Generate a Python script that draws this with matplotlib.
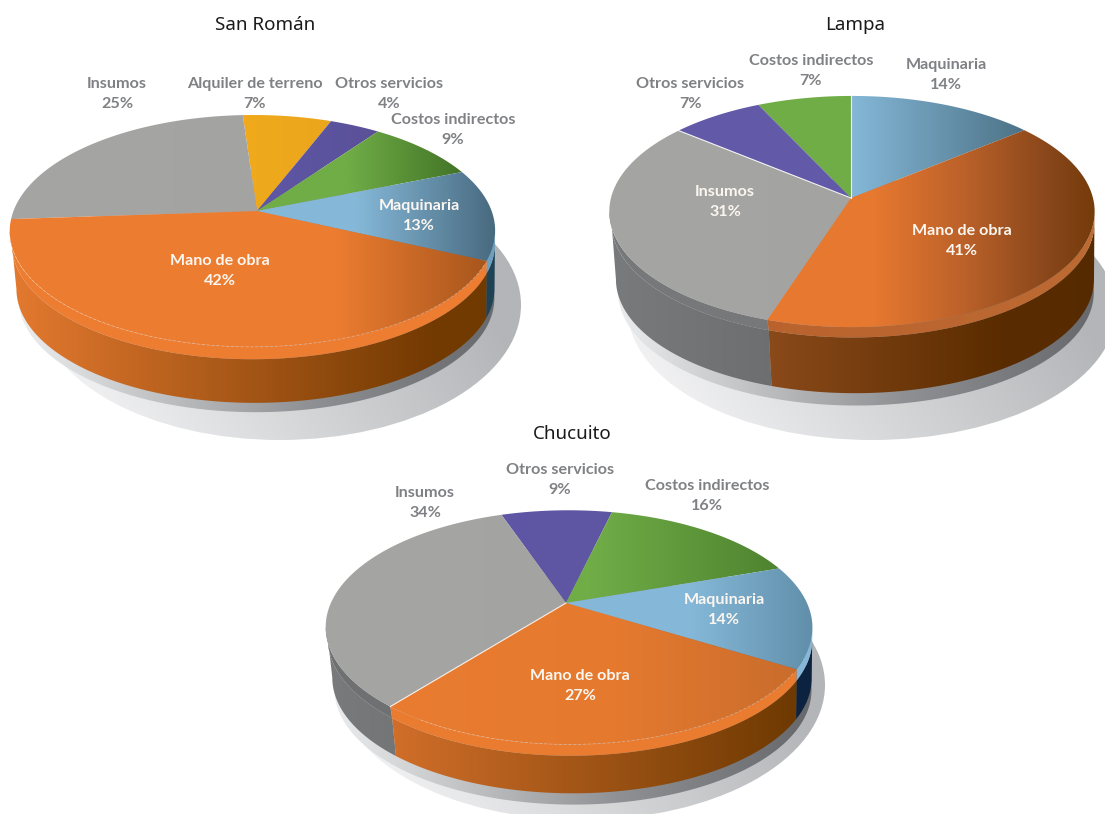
# -*- coding: utf-8 -*-

'''
Estructura de costos por provincia - tres tortas en perspectiva
'''

import matplotlib
matplotlib.use("Agg")
import matplotlib.pyplot as plt
import numpy as np
from matplotlib.colors import to_rgb
from matplotlib.patches import Ellipse, Polygon

# San Roman
sr_names = ["Alquiler de terreno", "Otros servicios", "Costos indirectos", "Maquinaria", "Mano de obra", "Insumos"]
sr_values = [7, 4, 9, 13, 42, 25]

# Lampa
la_names = ["Maquinaria", "Mano de obra", "Insumos", "Otros servicios", "Costos indirectos"]
la_values = [14, 41, 31, 7, 7]

# Chucuito
ch_names = ["Otros servicios", "Costos indirectos", "Maquinaria", "Mano de obra", "Insumos"]
ch_values = [9, 16, 14, 27, 34]

GREY_TXT = "#808184"
WHITE_TXT = "#fbf6f0"


def shade(ax, points, stops, x0, x1):
    # horizontal gradient clipped to a polygon
    points = np.asarray(points)
    t = np.linspace(0, 1, 400)
    pos = [s[0] for s in stops]
    rgb = np.array([to_rgb(s[1]) for s in stops])
    img = np.stack([np.interp(t, pos, rgb[:, i]) for i in range(3)], axis=1)[None, :, :]
    im = ax.imshow(img, extent=(x0, x1, points[:, 1].max() + 1, points[:, 1].min() - 1),
                   aspect="auto", interpolation="bilinear", zorder=2)
    im.set_clip_path(Polygon(points, closed=True, transform=ax.transData))


def project(p, theta, scale=1.0, drop=0.0, shift=0.0):
    # theta in degrees, clockwise from the top of the disc
    u = np.sin(np.radians(theta))
    v = np.cos(np.radians(theta))
    w = 1 + p["k"] * v + p["m"] * u
    x = p["cx"] + scale * p["rx"] * u / w + shift
    y = p["cy"] - scale * p["ry"] * v / w + drop
    return np.column_stack([x, y])


def band(p, a, b, top, bottom):
    th = np.linspace(a, b, 120)
    return np.vstack([project(p, th, *top), project(p, th[::-1], *bottom)])


def draw_pie(ax, p, names, values, styles):
    x0 = p["cx"] - 250
    x1 = p["cx"] + 250

    # cast shadow
    sx, sy, srx, sry = p["shadow"]
    yy, xx = np.mgrid[0:1:200j, 0:1:300j]
    g = np.clip(0.3 + 0.95 * xx - 0.35 * yy, 0, 1)
    light = np.array(to_rgb("#f7f7f8"))
    dark = np.array(to_rgb("#b3b5b8"))
    img = light + (dark - light) * g[:, :, None]
    im = ax.imshow(img, extent=(sx - srx, sx + srx, sy + sry, sy - sry), aspect="auto", zorder=1)
    im.set_clip_path(Ellipse((sx, sy), 2 * srx, 2 * sry, transform=ax.transData))

    # grey base under the wall
    th = np.linspace(0, 360, 361)
    shade(ax, project(p, th, *p["base"]),
          [(0, "#f0f1f2"), (0.3, "#c0c2c4"), (0.6, "#8f9194"), (1, "#65676a")], x0, x1)

    edges = p["start"] + np.cumsum([0] + list(values)) * 3.6
    slices = [(names[i], edges[i], edges[i + 1]) for i in range(len(values))]
    # front slices last
    slices.sort(key=lambda s: np.cos(np.radians((s[1] + s[2]) / 2)), reverse=True)

    # walls only exist between the widest points of the rim
    limit = np.degrees(np.arcsin(p["k"]))
    lo = 90 + limit
    hi = 270 - limit
    lip = (0.995, p["lip"], 1)
    for name, a, b in slices:
        a2, b2 = max(a, lo), min(b, hi)
        if a2 < b2:
            shade(ax, band(p, a2, b2, lip, p["wall"]), styles[name]["wall"], x0, x1)
    for name, a, b in slices:
        a2, b2 = max(a, lo), min(b, hi)
        if a2 < b2:
            shade(ax, band(p, a2, b2, (1.0, 0.0, 0.0), lip), styles[name]["lip"], x0, x1)
    for name, a, b in slices:
        th = np.linspace(a, b, 120)
        face = np.vstack([[[p["cx"], p["cy"]]], project(p, th)])
        shade(ax, face, styles[name]["face"], x0, x1)

    # thin highlights
    for name, a, b in slices:
        if name in p["white_rim"]:
            rim = project(p, np.linspace(a + 2, b - 8, 120))
            ax.plot(rim[:, 0], rim[:, 1], color="white", lw=0.5, alpha=0.4, ls=(0, (5, 2)), zorder=3)
    for i in p["white_edges"]:
        end = project(p, np.array([edges[i]]))[0]
        ax.plot([p["cx"], end[0]], [p["cy"], end[1]], color="white", lw=0.8, alpha=0.85, zorder=3)


def draw_labels(ax, names, values, where):
    for name, value in zip(names, values):
        x, y, color = where[name]
        ax.text(x, y, "%s\n%d%%" % (name, value), color=color, ha="center", va="center",
                fontsize=11.6, fontweight="bold", linespacing=1.55, zorder=5, family="Lato")


flat_grey = [(0, "#a5a5a3"), (1, "#a2a2a0")]
flat_purple = [(0, "#6058a7"), (1, "#5d54a0")]
dark_grey = [(0, "#7a7b7d"), (0.35, "#6d6e70"), (1, "#626365")]
navy = [(0, "#1f4255"), (1, "#1f4255")]

sr_styles = {
    "Insumos": dict(face=flat_grey, lip=dark_grey, wall=dark_grey),
    "Alquiler de terreno": dict(face=[(0.4, "#f2ab1b"), (0.7, "#e9a51d")], lip=dark_grey, wall=dark_grey),
    "Otros servicios": dict(face=[(0.5, "#5f57a6"), (0.8, "#594f95")], lip=dark_grey, wall=dark_grey),
    "Costos indirectos": dict(face=[(0, "#70ad47"), (0.68, "#70ad47"), (0.93, "#3f6f24")], lip=navy, wall=navy),
    "Maquinaria": dict(face=[(0, "#85b8d8"), (0.7, "#85b8d8"), (0.98, "#47697e")],
                       lip=[(0, "#6ba0c0"), (1, "#6ba0c0")], wall=navy),
    "Mano de obra": dict(face=[(0, "#ed7d31"), (0.66, "#ec7c30"), (0.98, "#a3541c")],
                         lip=[(0, "#ed7d31"), (1, "#ed7d31")],
                         wall=[(0, "#e57a30"), (0.85, "#733a02"), (1, "#703a00")]),
}

la_orange_wall = [(0, "#b0622a"), (0.33, "#8b4a1a"), (0.8, "#5a2c00"), (1, "#562a00")]
la_styles = {
    "Maquinaria": dict(face=[(0, "#85b8d8"), (0.5, "#85b8d8"), (0.85, "#4c7286")], lip=navy, wall=navy),
    "Mano de obra": dict(face=[(0, "#e97a2f"), (0.55, "#e67830"), (0.72, "#bd622a"), (0.9, "#87461a"), (1, "#733a08")],
                         lip=[(0, "#b85f2b"), (1, "#bd6a33")], wall=la_orange_wall),
    "Insumos": dict(face=flat_grey, lip=[(0, "#77787a"), (1, "#77787a")], wall=dark_grey),
    "Otros servicios": dict(face=[(0, "#625aa8"), (1, "#625aa8")], lip=dark_grey, wall=dark_grey),
    "Costos indirectos": dict(face=[(0, "#70ad47"), (1, "#70ad47")], lip=dark_grey, wall=dark_grey),
}

ch_styles = {
    "Otros servicios": dict(face=flat_purple, lip=dark_grey, wall=dark_grey),
    "Costos indirectos": dict(face=[(0, "#70ad47"), (0.55, "#70ad47"), (0.92, "#4f8430")], lip=navy, wall=navy),
    "Maquinaria": dict(face=[(0, "#85b8d8"), (0.75, "#85b8d8"), (1, "#608ea9")],
                       lip=[(0, "#85b8d8"), (1, "#85b8d8")], wall=[(0, "#0c2340"), (1, "#0c2340")]),
    "Mano de obra": dict(face=[(0, "#ea7c30"), (0.6, "#e57a2f"), (0.97, "#c96c2c")],
                         lip=[(0, "#ea7c30"), (1, "#ea7c30")],
                         wall=[(0, "#d26f2a"), (0.14, "#d26f2a"), (0.95, "#6f3a02"), (1, "#6f3a02")]),
    "Insumos": dict(face=flat_grey, lip=[(0, "#6f7072"), (1, "#6f7072")], wall=dark_grey),
}

sr_pie = dict(cx=257, cy=211, rx=239, ry=112.5, k=0.172, m=0.0186, start=-4, lip=13,
              wall=(0.985, 58, 3), base=(0.98, 68, 4), shadow=(280, 305, 241, 135),
              white_rim=["Mano de obra"], white_edges=[])
la_pie = dict(cx=851, cy=198, rx=241, ry=114, k=0.117, m=-0.004, start=0, lip=11,
              wall=(0.985, 68, 3), base=(0.98, 81, 4), shadow=(872, 310, 244, 130),
              white_rim=[], white_edges=[3, 0])
ch_pie = dict(cx=566, cy=603, rx=238, ry=112, k=0.208, m=-0.0123, start=-19, lip=12,
              wall=(0.985, 51, 3), base=(0.98, 63, 4), shadow=(582, 685, 243, 135),
              white_rim=["Mano de obra"], white_edges=[4])

sr_where = {"Insumos": (117, 94, GREY_TXT), "Alquiler de terreno": (255, 94, GREY_TXT),
            "Otros servicios": (389, 94, GREY_TXT), "Costos indirectos": (453, 130, GREY_TXT),
            "Maquinaria": (419, 216, WHITE_TXT), "Mano de obra": (220, 271, WHITE_TXT)}
la_where = {"Maquinaria": (946, 75, GREY_TXT), "Costos indirectos": (811, 71, GREY_TXT),
            "Otros servicios": (690, 94, GREY_TXT), "Insumos": (725, 202, WHITE_TXT),
            "Mano de obra": (962, 241, WHITE_TXT)}
ch_where = {"Otros servicios": (560, 480, GREY_TXT), "Costos indirectos": (707, 496, GREY_TXT),
            "Insumos": (425, 503, GREY_TXT), "Maquinaria": (724, 610, WHITE_TXT),
            "Mano de obra": (580, 686, WHITE_TXT)}

fig = plt.figure(figsize=(11.05, 8.14), dpi=100)
ax = fig.add_axes([0, 0, 1, 1])

draw_pie(ax, sr_pie, sr_names, sr_values, sr_styles)
draw_pie(ax, la_pie, la_names, la_values, la_styles)
draw_pie(ax, ch_pie, ch_names, ch_values, ch_styles)

draw_labels(ax, sr_names, sr_values, sr_where)
draw_labels(ax, la_names, la_values, la_where)
draw_labels(ax, ch_names, ch_values, ch_where)

for title, x, y in [("San Román", 265, 25), ("Lampa", 855, 25), ("Chucuito", 572, 434)]:
    ax.text(x, y, title, ha="center", va="center", fontsize=13.5, color="#1a1a1a", family="Noto Sans", zorder=5)

ax.set_xlim(0, 1105)
ax.set_ylim(814, 0)
ax.axis("off")
fig.savefig("out.png", dpi=100)
